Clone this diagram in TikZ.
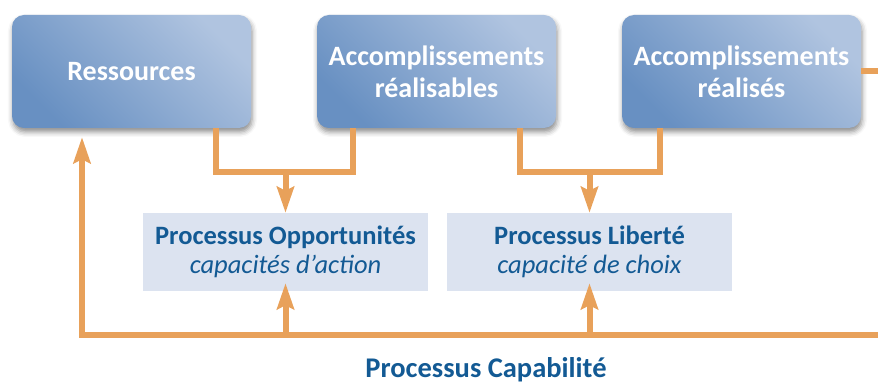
\documentclass[tikz,border=0pt]{standalone}
\usepackage{fontspec}
\setmainfont{Carlito}
\usepackage{xcolor}
\usetikzlibrary{positioning,arrows.meta,shadows.blur}
\definecolor{boxdark}{HTML}{6890C2}
\definecolor{boxlight}{HTML}{B0C4E0}
\definecolor{procfill}{HTML}{DCE3F0}
\definecolor{textblue}{HTML}{135A94}
\definecolor{flowor}{HTML}{E8A15A}

\begin{document}
\begin{tikzpicture}[x=1pt,y=1pt,node distance=305pt,on grid,
    stage/.style={rounded corners=12pt,minimum width=239pt,minimum height=113pt,inner sep=0pt,
      left color=boxdark,right color=boxlight,shading angle=135,
      blur shadow={shadow xshift=1pt,shadow yshift=-4pt,shadow blur radius=5pt,shadow opacity=45},
      text=white,align=center,font=\bfseries\fontsize{28}{32}\selectfont},
    proc/.style={fill=procfill,minimum width=285pt,minimum height=78pt,inner sep=0pt,
      text=textblue,align=center,font=\fontsize{26.5}{28.5}\selectfont},
    link/.style={draw=flowor,line width=6pt},
    flow/.style={link,-{Stealth[length=26pt,width=17pt,inset=4pt]}}]
   \useasboundingbox (0,0) rectangle (878,383);
   % pieces of the chain
   \node[stage] (res) at (131.5,311.5) {Ressources};
   \node[stage] (acr) [right=of res] {Accomplissements\\r\'ealisables};
   \node[stage] (acd) [right=of acr] {Accomplissements\\r\'ealis\'es};
   \node[proc] (opp) [below right=180.5pt and 154pt of res] {\textbf{Processus Opportunit\'es}\\\textit{capacit\'es d’action}};
   \node[proc] (lib) [right=304pt of opp] {\textbf{Processus Libert\'e}\\\textit{capacit\'e de choix}};
   \node[text=textblue,font=\bfseries\fontsize{28.5}{30}\selectfont,anchor=base] (cap) at (486,6) {Processus Capabilit\'e};
   \coordinate[above=41pt of opp.north] (m_1);
   \coordinate[above=41pt of lib.north] (m_2);
   \coordinate (back) at (878,48);
   % connectors
   \draw[link] ([xshift=84.5pt]res.south) |- (m_1) -| ([xshift=-84pt]acr.south);
   \draw[link] ([xshift=83.5pt]acr.south) |- (m_2) -| ([xshift=-81.5pt]acd.south);
   \draw[flow] (m_1) -- (opp.north);
   \draw[flow] (m_2) -- (lib.north);
   \draw[link] (acd.east) -- (acd.east -| back);
   \draw[flow] (back) -| ([xshift=-49.5pt,yshift=-9pt]res.south);
   \draw[flow] (opp.south |- back) -- ([yshift=8pt]opp.south);
   \draw[flow] (lib.south |- back) -- ([yshift=8pt]lib.south);
\end{tikzpicture}
\end{document}
